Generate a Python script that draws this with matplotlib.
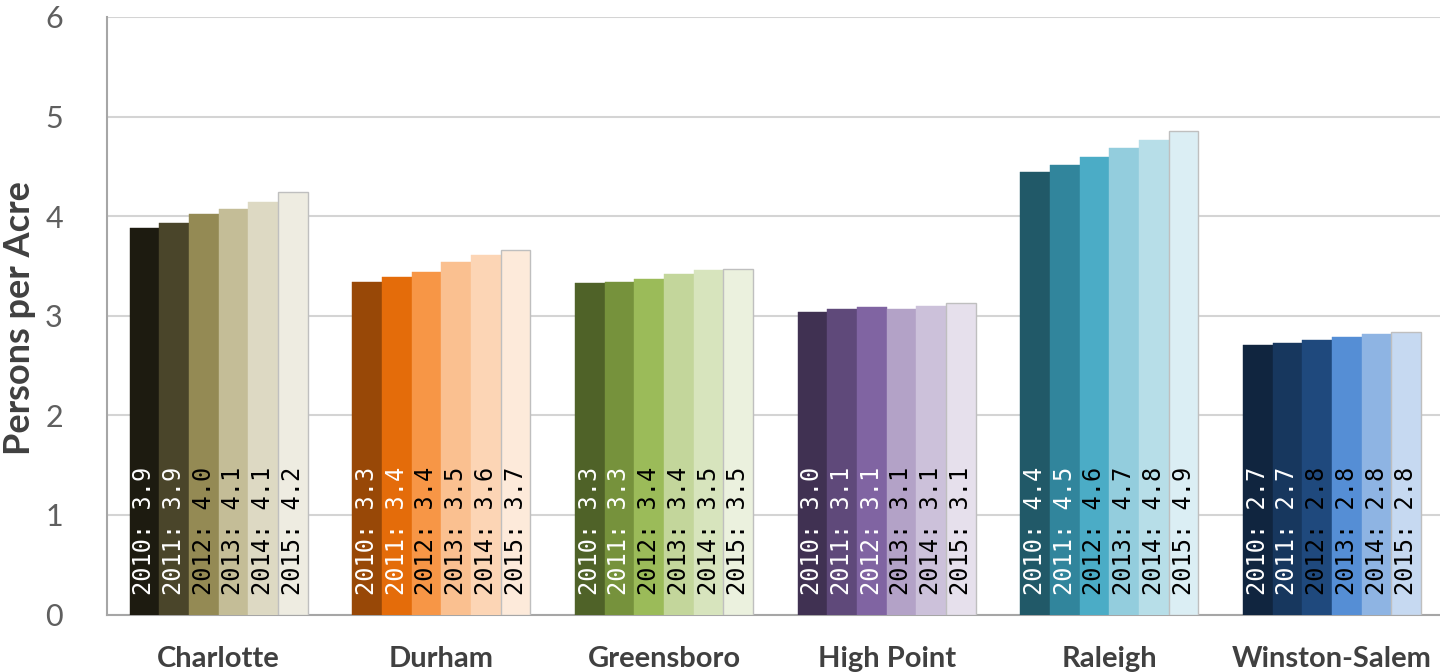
import numpy as np
import matplotlib
matplotlib.use("Agg")
import matplotlib.pyplot as plt

# persons per acre by city, 2010-2015
cities = ["Charlotte", "Durham", "Greensboro", "High Point", "Raleigh", "Winston-Salem"]
years = ["2010", "2011", "2012", "2013", "2014", "2015"]

charlotte = [3.88, 3.93, 4.02, 4.07, 4.14, 4.24]
durham = [3.34, 3.39, 3.44, 3.54, 3.61, 3.66]
greensboro = [3.33, 3.34, 3.37, 3.42, 3.46, 3.47]
high_point = [3.04, 3.07, 3.09, 3.07, 3.10, 3.13]
raleigh = [4.44, 4.51, 4.59, 4.68, 4.76, 4.86]
winston_salem = [2.71, 2.73, 2.76, 2.79, 2.82, 2.84]

density = [charlotte, durham, greensboro, high_point, raleigh, winston_salem]

# one shade ramp per city, dark -> light
palettes = [
    ["#1D1B10", "#4A452A", "#948A54", "#C4BD97", "#DDD9C3", "#EEECE1"],
    ["#984807", "#E46C0A", "#F79646", "#FAC090", "#FCD5B5", "#FDEADA"],
    ["#4F6228", "#76923C", "#9BBB59", "#C3D69B", "#D7E4BD", "#EBF1DE"],
    ["#403152", "#5F497A", "#8064A2", "#B3A2C7", "#CCC1DA", "#E6E0EC"],
    ["#215968", "#31859C", "#4BACC6", "#93CDDD", "#B7DEE8", "#DBEEF4"],
    ["#10253F", "#17375E", "#1F497D", "#558ED5", "#8EB4E3", "#C6D9F1"],
]
# how many of the darkest bars get white text
n_white = [2, 2, 2, 3, 2, 2]

fig = plt.figure(figsize=(14.4, 6.72), dpi=100)
ax = fig.add_axes([107.3 / 1440, 57.5 / 672, 1336 / 1440, 597.5 / 672])

bar_w = 0.8 / len(years)
x = np.arange(len(cities))

for ci, vals in enumerate(density):
    for yi, v in enumerate(vals):
        xpos = x[ci] - 0.4 + bar_w * (yi + 0.5)
        last = yi == len(years) - 1
        ax.bar(xpos, v, width=bar_w, color=palettes[ci][yi],
               edgecolor="#BFBFBF" if last else palettes[ci][yi],
               linewidth=1.0 if last else 0.3, zorder=3)
        ax.text(xpos, 0.2, f"{years[yi]}: {v:.1f}", rotation=90,
                ha="center", va="bottom", fontsize=17,
                family="DejaVu Sans Mono",
                color="white" if yi < n_white[ci] else "black", zorder=4)

ax.set_xlim(-0.5, len(cities) - 0.5)
ax.set_ylim(0, 6)
ax.set_yticks(range(0, 7))
ax.set_xticks(x)
ax.set_xticklabels(cities, fontsize=21, fontweight="bold", color="#404040",
                   family="Lato")
for lbl in ax.get_yticklabels():
    lbl.set_family("Lato")
ax.tick_params(axis="y", length=0, pad=32, labelsize=22, labelcolor="#5F5F5F")
ax.tick_params(axis="x", length=0, pad=23)

# axis title placed in figure coords so it sits flush at the left edge
fig.text(20 / 1440, 1 - 318 / 672, "Persons per Acre", rotation=90,
         ha="center", va="center", fontsize=26, fontweight="bold",
         color="#404040", family="Lato")

ax.grid(axis="y", color="#D4D4D4", linewidth=1.5, zorder=0)
ax.set_axisbelow(True)
for side in ["top", "right"]:
    ax.spines[side].set_visible(False)
for side in ["left", "bottom"]:
    ax.spines[side].set_color("#A6A6A6")
    ax.spines[side].set_linewidth(1.5)

fig.savefig("out.png", dpi=100)
